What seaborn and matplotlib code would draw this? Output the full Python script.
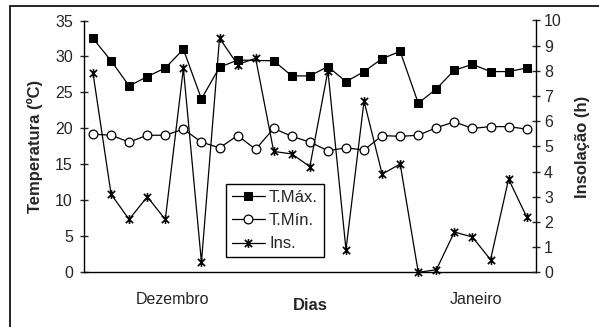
import numpy as np
import pandas as pd
import matplotlib
matplotlib.use("Agg")
import matplotlib.pyplot as plt
from matplotlib.path import Path
from matplotlib.patches import Rectangle
import seaborn as sns

# daily values (25 days)
dias = list(range(25))
t_max = [32.5, 29.4, 25.9, 27.2, 28.4, 31.0, 24.1, 28.5, 29.5, np.nan,
         29.4, 27.3, 27.3, 28.6, 26.5, 27.9, 29.7, 30.7, 23.5, 25.5,
         28.1, 28.9, 27.9, 27.9, 28.4]
t_min = [19.2, 19.05, 18.1, 19.05, 19.05, 19.9, 18.1, 17.3, 19.0, 17.1,
         20.0, 18.9, 18.1, 16.9, 17.3, 17.0, 19.0, 18.9, 19.05, 20.1,
         20.9, 20.0, 20.25, 20.25, 19.9]
insolacao = [7.9, 3.1, 2.1, 3.0, 2.1, 8.1, 0.4, 9.3, 8.25, 8.5,
             4.8, 4.7, 4.2, 8.0, 0.9, 6.8, 3.9, 4.3, 0.0, 0.1,
             1.6, 1.4, 0.5, 3.7, 2.2]

mes_labels = ["Dezembro", "Janeiro"]
mes_pos = [4.4, 21.2]
mes_limite = 18.5

df = pd.DataFrame({"dia": dias, "tmax": t_max, "tmin": t_min, "ins": insolacao})

sns.set_style("white")
plt.rcParams["font.family"] = ["Liberation Sans", "DejaVu Sans"]

# Excel-like star marker: X plus vertical bar
star = Path([(-1, -1), (1, 1), (-1, 1), (1, -1), (0, -1.2), (0, 1.2)],
            [Path.MOVETO, Path.LINETO, Path.MOVETO, Path.LINETO, Path.MOVETO, Path.LINETO])

fig = plt.figure(figsize=(5.99, 3.27), dpi=100)
ax = fig.add_axes([84 / 599, 1 - 272.3 / 327, 451.7 / 599, 251.8 / 327])
ax2 = ax.twinx()

line_kw = dict(color="black", linewidth=0.9, estimator=None, legend=False, clip_on=False)
sns.lineplot(data=df.dropna(subset=["tmax"]), x="dia", y="tmax", ax=ax, marker="s",
             markersize=6.3, markerfacecolor="black", markeredgecolor="black",
             label="T.Máx.", **line_kw)
sns.lineplot(data=df, x="dia", y="tmin", ax=ax, marker="o", markersize=6.3,
             markerfacecolor="white", markeredgecolor="black", markeredgewidth=0.9,
             label="T.Mín.", **line_kw)
sns.lineplot(data=df, x="dia", y="ins", ax=ax2, marker=star, markersize=6.3,
             markerfacecolor="black", markeredgecolor="black", markeredgewidth=1.2,
             label="Ins.", **line_kw)

ax.set_xlim(-0.5, 24.5)
ax.set_ylim(0, 35)
ax2.set_ylim(0, 10)
ax.set_yticks(range(0, 36, 5))
ax2.set_yticks(range(0, 11, 1))
ax.set_xticks(mes_pos)
ax.set_xticklabels(mes_labels)
ax.set_xticks([mes_limite], minor=True)

ax.tick_params(axis="x", which="major", length=0, pad=14, labelsize=11.5)
ax.tick_params(axis="x", which="minor", length=6, direction="inout", color="gray", width=1)
ax.tick_params(axis="y", length=6, direction="inout", width=1, pad=5, labelsize=11.5, left=True)
ax2.tick_params(axis="y", length=6, direction="inout", width=1, pad=3, labelsize=11.5, right=True)

for a in (ax, ax2):
    for s in a.spines.values():
        s.set_visible(False)
        s.set_color("black")
        s.set_linewidth(1)
ax.spines["left"].set_visible(True)
ax.spines["bottom"].set_visible(True)
ax2.spines["right"].set_visible(True)

ax.set_xlabel("Dias", fontsize=12, fontweight="bold")
ax.xaxis.set_label_coords(0.5, (272.3 - 306) / 251.8)
ax.xaxis.label.set_va("center")
ax.set_ylabel("Temperatura (ºC)", fontsize=12, fontweight="bold")
ax.yaxis.set_label_coords((35 - 84) / 451.7, 0.5)
ax.yaxis.label.set_va("center")
ax2.set_ylabel("Insolação (h)", fontsize=12, fontweight="bold", rotation=90)
ax2.yaxis.set_label_coords((583 - 84) / 451.7, 0.5)
ax2.yaxis.label.set_va("center")

h1, l1 = ax.get_legend_handles_labels()
h2, l2 = ax2.get_legend_handles_labels()
leg = ax2.legend(h1 + h2, l1 + l2, loc="lower left",
                 bbox_to_anchor=((225.7 - 84) / 451.7, (272.3 - 257.3) / 251.8),
                 borderaxespad=0, fontsize=12, handlelength=2.0, handletextpad=0.25,
                 labelspacing=0.5, borderpad=0.35, fancybox=False, framealpha=1,
                 edgecolor="black")
leg.get_frame().set_linewidth(1)

# chart area border (cropped on the right and bottom)
fig.add_artist(Rectangle((10 / 599, -0.5), 2, 0.5 + 1 - 5.7 / 327, transform=fig.transFigure,
                         fill=False, edgecolor="black", linewidth=1.2))

fig.savefig("out.png", dpi=100)
